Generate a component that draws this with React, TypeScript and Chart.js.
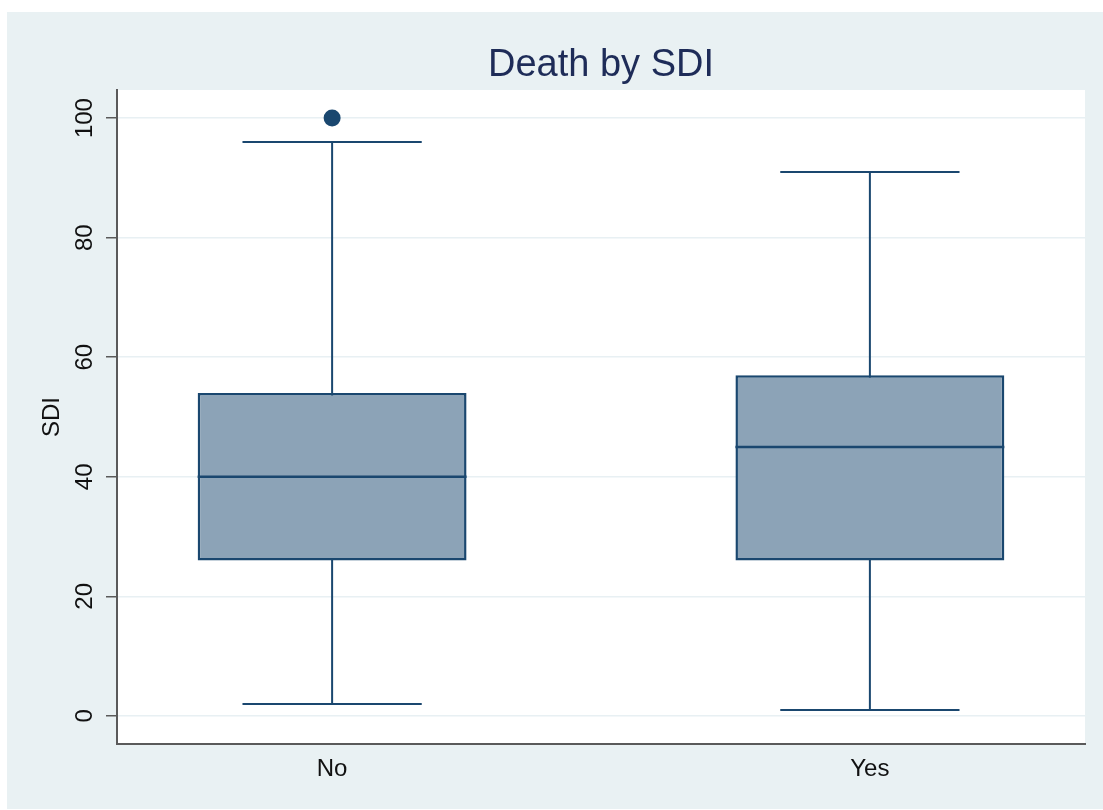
import React, { useEffect, useRef } from "react";
import { Chart, registerables } from "chart.js";

Chart.register(...registerables);

// ---- data ----
const categories = ["No", "Yes"];
const whiskerLow = [2, 1];
const q1Values = [26, 26];
const medianValues = [40, 45];
const q3Values = [54, 57];
const whiskerHigh = [96, 91];
const outlierValues = [[100], []];
const yTickValues = [0, 20, 40, 60, 80, 100];

const NAVY = "#1a476f";
const BOX_FILL = "#8ca3b7";
const BOX_HALF = 0.25;
const CAP_HALF = 1 / 6;

export default function App() {
  const canvasRef = useRef<HTMLCanvasElement | null>(null);

  useEffect(() => {
    if (!canvasRef.current) return;
    Chart.defaults.font.family = "'Liberation Sans', Arial, sans-serif";

    const positions = categories.map((_, i) => i + 1);
    const datasets: any[] = [];

    // median lines (on top)
    positions.forEach((p, i) => {
      datasets.push({
        type: "line",
        data: [
          { x: p - BOX_HALF, y: medianValues[i] },
          { x: p + BOX_HALF, y: medianValues[i] },
        ],
        borderColor: NAVY,
        borderWidth: 2.5,
        pointRadius: 0,
        fill: false,
        order: 0,
      });
    });

    // outliers
    datasets.push({
      type: "scatter",
      data: positions.flatMap((p, i) => outlierValues[i].map((v) => ({ x: p, y: v }))),
      backgroundColor: NAVY,
      borderColor: NAVY,
      pointRadius: 8.5,
      borderWidth: 0,
      order: 0,
    });

    // boxes
    datasets.push({
      type: "bar",
      data: positions.map((p, i) => ({ x: p, y: [q1Values[i], q3Values[i]] })),
      backgroundColor: BOX_FILL,
      borderColor: NAVY,
      borderWidth: 2.5,
      borderSkipped: false,
      categoryPercentage: 1,
      barPercentage: 0.5,
      order: 1,
    });

    // whiskers and caps
    positions.forEach((p, i) => {
      datasets.push({
        type: "line",
        data: [
          { x: p, y: whiskerLow[i] },
          { x: p, y: whiskerHigh[i] },
        ],
        borderColor: NAVY,
        borderWidth: 2,
        pointRadius: 0,
        fill: false,
        order: 2,
      });
      [whiskerLow[i], whiskerHigh[i]].forEach((v) => {
        datasets.push({
          type: "line",
          data: [
            { x: p - CAP_HALF, y: v },
            { x: p + CAP_HALF, y: v },
          ],
          borderColor: NAVY,
          borderWidth: 2,
          pointRadius: 0,
          fill: false,
          order: 2,
        });
      });
    });

    const plotBg = {
      id: "plotBg",
      beforeDraw(chart: any) {
        const { ctx, chartArea } = chart;
        ctx.save();
        ctx.fillStyle = "#ffffff";
        ctx.fillRect(chartArea.left, chartArea.top, chartArea.right - chartArea.left, chartArea.bottom - chartArea.top);
        ctx.restore();
      },
    };

    const chart = new Chart(canvasRef.current, {
      type: "bar",
      data: { datasets },
      plugins: [plotBg],
      options: {
        animation: false,
        responsive: true,
        maintainAspectRatio: false,
        events: [],
        layout: { padding: { left: 0, right: 18, top: 0, bottom: 0 } },
        plugins: {
          legend: { display: false },
          tooltip: { enabled: false },
          title: {
            display: true,
            text: "Death by SDI",
            fullSize: false,
            color: "#1e2c58",
            font: { size: 38, weight: "normal" },
            padding: { top: 31, bottom: 1.4 },
          },
        },
        scales: {
          x: {
            type: "linear",
            min: 0.6,
            max: 2.4,
            offset: false,
            afterBuildTicks(scale: any) {
              scale.ticks = positions.map((v) => ({ value: v }));
            },
            afterFit(scale: any) {
              scale.height = 65;
            },
            ticks: {
              color: "#111",
              font: { size: 24 },
              padding: 11,
              maxRotation: 0,
              autoSkip: false,
              callback: (v: any) => categories[Math.round(Number(v)) - 1] ?? "",
            },
            grid: { display: true, drawOnChartArea: false, drawTicks: false },
            border: { display: true, color: "#5a5a5a", width: 2 },
          },
          y: {
            type: "linear",
            min: -4.7,
            max: 104.7,
            afterBuildTicks(scale: any) {
              scale.ticks = yTickValues.map((v) => ({ value: v }));
            },
            afterFit(scale: any) {
              scale.width = 110;
            },
            ticks: {
              color: "#111",
              font: { size: 24 },
              padding: 1,
              minRotation: 90,
              maxRotation: 90,
              crossAlign: "center",
              autoSkip: false,
            },
            grid: {
              color: "#e8f0f3",
              lineWidth: 1.5,
              drawTicks: true,
              tickLength: 11,
              tickColor: "#5a5a5a",
              tickWidth: 1.5,
            },
            border: { display: true, color: "#5a5a5a", width: 2 },
            title: {
              display: true,
              text: "SDI",
              color: "#111",
              font: { size: 24 },
              padding: { top: 31, bottom: 0 },
            },
          },
        },
      } as any,
    });

    return () => chart.destroy();
  }, []);

  return (
    <div
      style={{
        position: "absolute",
        left: 7,
        top: 12,
        width: 1096,
        height: 797,
        background: "#e9f1f3",
      }}
    >
      <canvas ref={canvasRef} />
    </div>
  );
}
